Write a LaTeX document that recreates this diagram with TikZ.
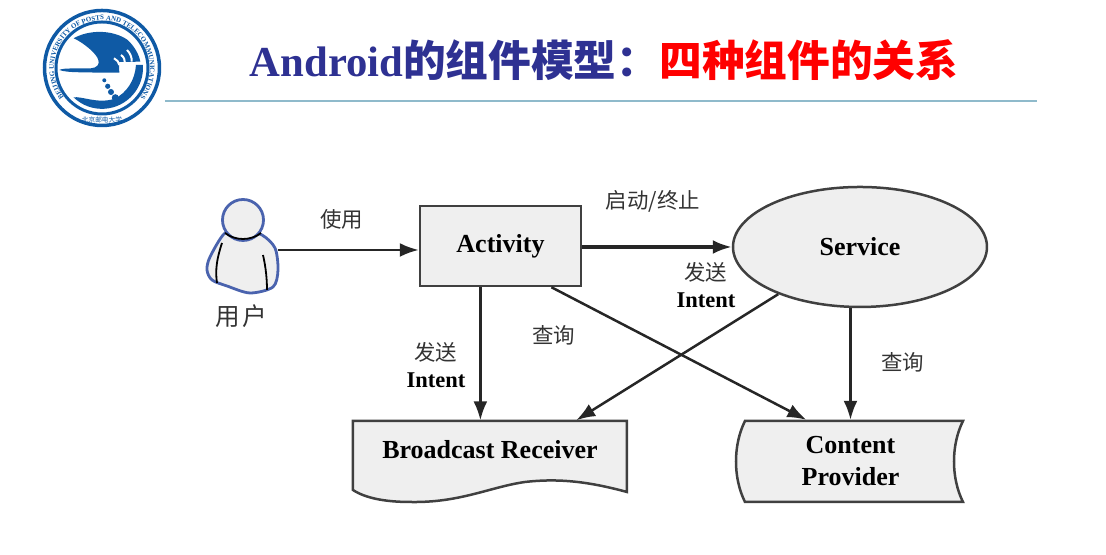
\documentclass[tikz,border=0pt]{standalone}
\usepackage{fontspec}
\setmainfont{Liberation Serif}
\newfontfamily\cjk{Noto Sans CJK SC}
\usetikzlibrary{arrows.meta,shapes.geometric,decorations.text}
\definecolor{titleblue}{HTML}{2E3192}
\definecolor{logoblue}{HTML}{0F5AA5}
\definecolor{rulecol}{HTML}{8FBACB}
\definecolor{boxfill}{HTML}{EFEFEF}
\definecolor{boxline}{HTML}{404040}
\definecolor{useredge}{HTML}{4A63AE}
\tikzset{
  flow/.style={draw=black!85,line width=.25mm,-{Latex[length=1.9mm,width=1.4mm]}},
  shapeline/.style={draw=boxline,line width=.25mm,fill=boxfill},
  boldlabel/.style={font=\fontsize{7.4}{8.8}\selectfont\bfseries,align=center,inner sep=0pt},
  cjklabel/.style={font=\fontsize{6.1}{7}\selectfont\cjk,text=black!80,inner sep=0pt},
}
\begin{document}
\begin{tikzpicture}[x=.1mm,y=-.1mm]
  \useasboundingbox (0,0) rectangle (1106,555);
  % logo
  \begin{scope}[shift={(102,68)},x=.1mm,y=.1mm]
    \draw[logoblue,line width=.35mm] (0,0) circle[radius=5.75mm];
    \draw[logoblue,line width=.3mm] (0,0) circle[radius=4.6mm];
    \node[text=logoblue,font=\fontsize{1.9}{2}\selectfont\cjk,inner sep=0pt] (logotext) at (0,-51.5) {北京邮电大学};
    \fill[logoblue] (-28.3,29.7) .. controls (-14,38) and (10,39) .. (25.7,28)
      .. controls (32,22) and (37,14) .. (38.3,6.3) -- (17,6) -- (17.3,-4.7) -- (-4.3,-4.7)
      .. controls (-20,-4) and (-34,-5) .. (-42.7,-2)
      .. controls (-38,0.5) and (-24,-1) .. (-11,-0.3)
      .. controls (-5,0) and (-2,4) .. (-3.7,8)
      .. controls (-5,14) and (-18,25) .. cycle;
    \draw[white,line width=.2mm] (12,9.7) .. controls (15,8) and (17,6) .. (17.3,3);
    \draw[white,line width=.2mm] (19,13) .. controls (22,11) and (23,8) .. (23,4.7);
    \draw[white,line width=.2mm] (25,18) .. controls (28,15) and (30,11) .. (29.7,6.3);
    \fill[logoblue] (34,3) -- (40.9,3) arc[start angle=4,end angle=-134,radius=4.1mm]
      .. controls (-20,-28) and (-5,-36) .. (12,-31)
      .. controls (25,-25) and (33,-12) .. cycle;
    \foreach \px/\py/\ps in {2.3/-12.3/2,5.7/-18.3/2.6,9/-24/3,13.3/-29.7/3.5}
      \fill[logoblue] (\px,\py) circle[radius=\ps];
  \end{scope}
  % ring text is set large and scaled down, the decoration fails at true size
  \begin{scope}[transform canvas={shift={(10.2mm,-6.8mm)},scale=.25}]
    \path[postaction={decorate,decoration={text along path,text align=center,
      text={|\fontsize{7.9}{9}\selectfont\bfseries\color{logoblue}|BEIJING UNIVERSITY OF POSTS AND TELECOMMUNICATIONS}}}]
      (238:19.2mm) arc[start angle=238,end angle=-58,radius=19.2mm];
  \end{scope}
  % title
  \node[inner sep=0pt,font=\fontsize{12.15}{14}\selectfont\bfseries] (title) at (604,60)
    {\textcolor{titleblue}{Android{\cjk 的组件模型：}}\textcolor{red}{\cjk 四种组件的关系}};
  \coordinate (ruleleft) at (165,101);
  \coordinate (ruleright) at (1037,101);
  \draw[rulecol,line width=.28mm] (ruleleft)--(ruleright);
  % user
  \draw[draw=useredge,line width=.28mm,fill=boxfill]
    plot[smooth cycle] coordinates {(243,230) (225,233) (210,257) (207,270) (212,280) (227,286) (250,293) (273,287) (278,270) (275,248) (262,235)};
  \draw[black,line width=.18mm] (222,243) .. controls (217,258) and (215,270) .. (217,283);
  \draw[black,line width=.18mm] (263,255) .. controls (266,268) and (267,280) .. (267,290);
  \draw[draw=useredge,line width=.28mm,fill=boxfill] (243,220) circle[radius=2.05mm];
  \draw[black,line width=.18mm] (225,233) .. controls (235,241) and (251,241) .. (261,233);
  \node[minimum width=6.8mm,minimum height=8mm,inner sep=0pt] (user) at (243,250) {};
  \node[font=\fontsize{7}{8}\selectfont\cjk,text=black!80,inner sep=0pt] (userlabel) at (241,316) {用\hspace{.1em}户};
  % the two wavy shapes
  \draw[shapeline] (353,421) -- (627,421) -- (627,492)
    .. controls (590,482) and (560,478) .. (525,482)
    .. controls (490,487) and (460,503) .. (410,502)
    .. controls (385,502) and (365,498) .. (353,490) -- cycle;
  \draw[shapeline] (745,421) -- (963,421)
    .. controls (951,445) and (951,478) .. (963,502) -- (745,502)
    .. controls (733,478) and (733,445) .. cycle;
  % nodes
  \node[shapeline,minimum width=16.1mm,minimum height=8mm,inner sep=0pt,boldlabel] (activity) at (500.5,246) {Activity};
  \node[shapeline,ellipse,minimum width=25.4mm,minimum height=12mm,inner sep=0pt,boldlabel] (service) at (860,247) {Service};
  \node[minimum width=27.4mm,minimum height=5.8mm,boldlabel] (broadcast) at (490,450) {Broadcast Receiver};
  \node[minimum width=22.5mm,minimum height=8.1mm,boldlabel] (content) at (850.5,461) {Content\\[0.2pt]Provider};
  % connectors
  \draw[flow] (user.east)--(user.east -| activity.west);
  \draw[flow,line width=.32mm] (activity.east |- service.west)--(service.west);
  \draw[flow] (activity.244.6)--(activity.244.6 |- broadcast.north);
  \draw[flow] (activity.-39.8)--(content.137.7);
  \draw[flow] (service.210.4)--(broadcast.19.3);
  \draw[flow] (service.south -| content.north)--(content.north);
  % labels
  \node[cjklabel] (l1) at (342,219) {使用};
  \node[cjklabel] (l2) at (653,201) {启动/终止};
  \node[cjklabel] (l3) at (706,272) {发送};
  \node[boldlabel,font=\fontsize{6.4}{7}\selectfont\bfseries] (l4) at (706,300) {Intent};
  \node[cjklabel] (l5) at (436,352) {发送};
  \node[boldlabel,font=\fontsize{6.4}{7}\selectfont\bfseries] (l6) at (436,380) {Intent};
  \node[cjklabel] (l7) at (554,335) {查询};
  \node[cjklabel] (l8) at (903,362) {查询};
\end{tikzpicture}
\end{document}
